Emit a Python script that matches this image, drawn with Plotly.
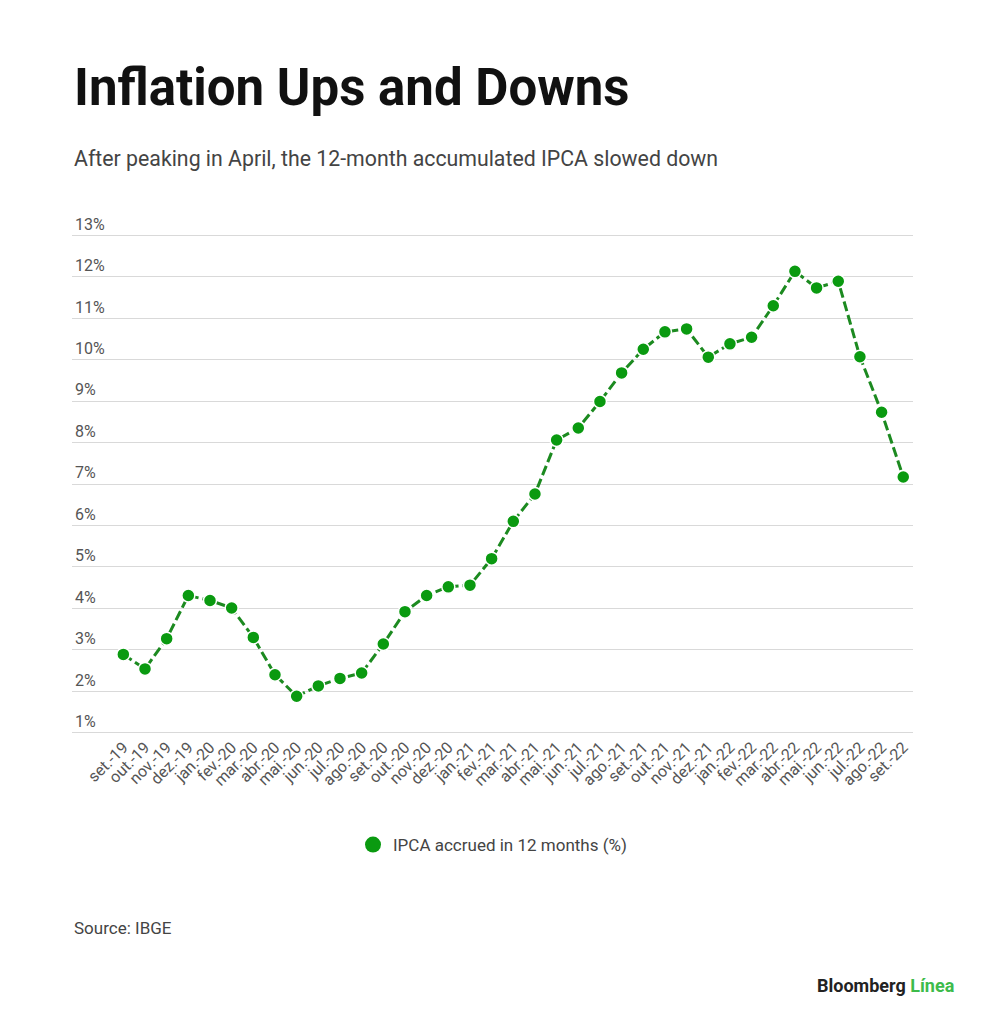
import plotly.graph_objects as go

months = ["set.-19", "out.-19", "nov.-19", "dez.-19", "jan.-20", "fev.-20", "mar.-20", "abr.-20",
          "mai.-20", "jun.-20", "jul.-20", "ago.-20", "set.-20", "out.-20", "nov.-20", "dez.-20",
          "jan.-21", "fev.-21", "mar.-21", "abr.-21", "mai.-21", "jun.-21", "jul.-21", "ago.-21",
          "set.-21", "out.-21", "nov.-21", "dez.-21", "jan.-22", "fev.-22", "mar.-22", "abr.-22",
          "mai.-22", "jun.-22", "jul.-22", "ago.-22", "set.-22"]
ipca = [2.89, 2.54, 3.27, 4.31, 4.19, 4.01, 3.30, 2.40,
        1.88, 2.13, 2.31, 2.44, 3.14, 3.92, 4.31, 4.52,
        4.56, 5.20, 6.10, 6.76, 8.06, 8.35, 8.99, 9.68,
        10.25, 10.67, 10.74, 10.06, 10.38, 10.54, 11.30, 12.13,
        11.73, 11.89, 10.07, 8.73, 7.17]
series_name = "IPCA accrued in 12 months (%)"
y_ticks = list(range(1, 14))
y_labels = [f"{v}%" for v in y_ticks]

FONT = "Roboto"
GREEN = "#0a9a10"
LINE_GREEN = "#1c8a20"

fig = go.Figure()
fig.add_trace(go.Scatter(
    x=months, y=ipca, mode="lines+markers", showlegend=False,
    line=dict(color=LINE_GREEN, width=3, dash="10px,4px"),
    marker=dict(color=GREEN, size=13, line=dict(color="white", width=1.5)),
    hoverinfo="x+y",
))
fig.add_trace(go.Scatter(
    x=[None], y=[None], mode="markers", name=series_name, showlegend=True,
    marker=dict(color=GREEN, size=22),
))

fig.update_layout(
    width=992, height=1020,
    paper_bgcolor="white", plot_bgcolor="white",
    margin=dict(l=64, r=87, t=226, b=294),
    font=dict(family=FONT, color="#555555", size=15),
    xaxis=dict(
        type="category", range=[-2.37, 36.45],
        tickangle=-45, tickfont=dict(size=16, color="#555555"),
        showgrid=False, showline=False, ticks="", zeroline=False,
    ),
    yaxis=dict(
        range=[0.97, 13.03], tickvals=y_ticks, ticktext=y_labels,
        ticklabelposition="inside top", ticklabeloverflow="allow",
        tickfont=dict(size=16, color="#555555"),
        showgrid=True, gridcolor="#d9d9d9", gridwidth=1,
        zeroline=False, showline=False, ticks="",
    ),
    legend=dict(
        orientation="h", x=0.5, xanchor="center", y=-0.222, yanchor="middle",
        font=dict(size=17, color="#444444"),
    ),
    annotations=[
        dict(text="<b>Inflation Ups and Downs</b>", xref="paper", yref="paper",
             x=0.0, y=1.0, xanchor="left", yanchor="bottom", yshift=115, xshift=0,
             showarrow=False, font=dict(family=FONT, size=51, color="#111111")),
        dict(text="After peaking in April, the 12-month accumulated IPCA slowed down",
             xref="paper", yref="paper", x=0.0, y=1.0, xanchor="left", yanchor="bottom",
             yshift=61, xshift=0, showarrow=False, font=dict(family=FONT, size=21.3, color="#444444")),
        dict(text="Source: IBGE", xref="paper", yref="paper", x=0.0, y=0.0,
             xanchor="left", yanchor="middle", yshift=-194, xshift=0, showarrow=False,
             font=dict(family=FONT, size=17, color="#444444")),
        dict(text="<b>Bloomberg</b> <b><span style='color:#3dbb4b'>Línea</span></b>",
             xref="paper", yref="paper", x=1.0, y=0.0, xanchor="left", yanchor="middle",
             xshift=-98, yshift=-251, showarrow=False,
             font=dict(family=FONT, size=18, color="#222222")),
    ],
)

fig.write_html("out.html")
